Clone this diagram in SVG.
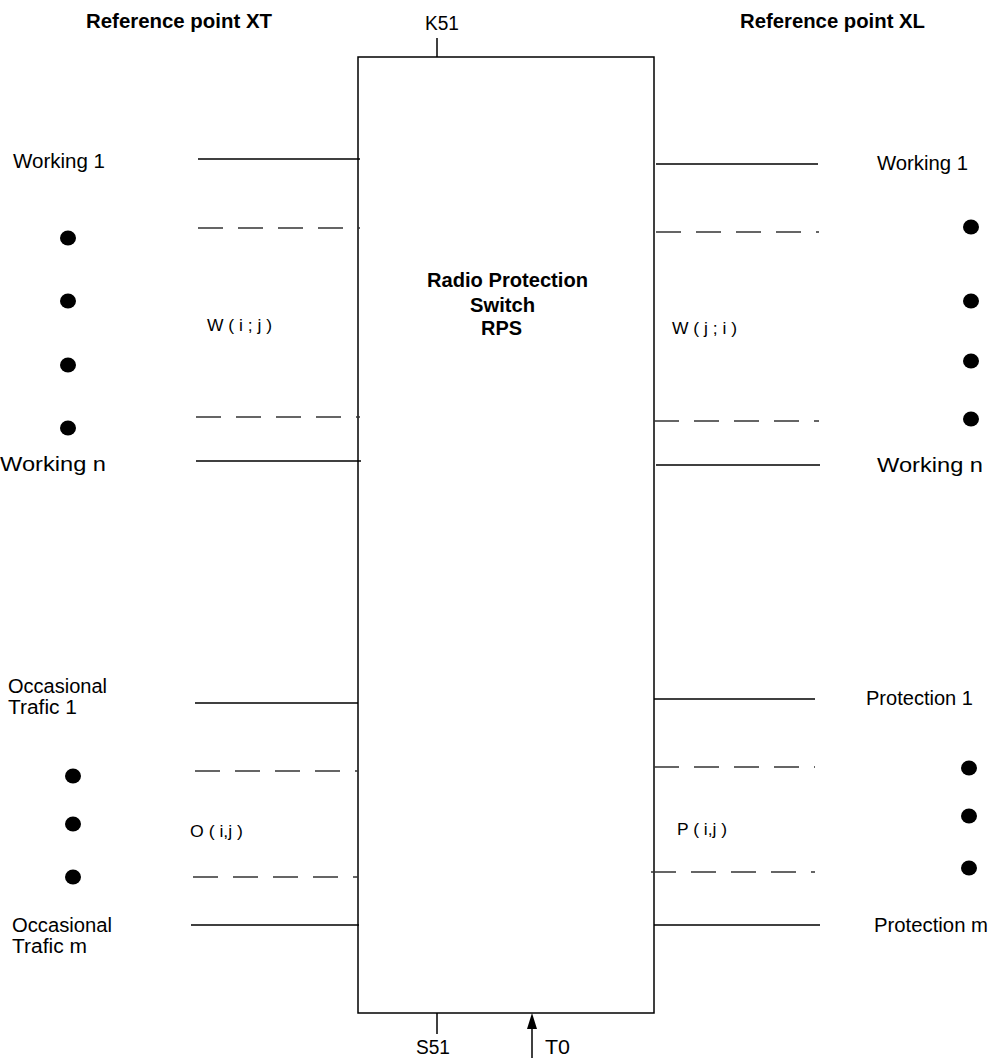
<svg xmlns="http://www.w3.org/2000/svg" width="996" height="1061" viewBox="0 0 996 1061">
<style>
text{font-family:"Liberation Sans",Arial,sans-serif;fill:#000}
.h{font-size:20px;font-weight:bold}
.t{font-size:20px}
.s{font-size:17px}
.ln{stroke:#000;stroke-width:1.5;fill:none}
.da{stroke:#333;stroke-width:1.3;stroke-dasharray:25 15;fill:none}
.dot{fill:#000}
</style>
<rect width="996" height="1061" fill="#fff"/>
<g id="headers">
<text class="h" x="86" y="28" textLength="186" lengthAdjust="spacingAndGlyphs">Reference point XT</text>
<text class="h" x="740" y="28" textLength="185" lengthAdjust="spacingAndGlyphs">Reference point XL</text>
</g>
<g id="rps">
<rect x="358" y="57" width="296" height="956" class="ln" stroke-width="1.6"/>
<text class="h" x="427" y="287" textLength="161" lengthAdjust="spacingAndGlyphs">Radio Protection</text>
<text class="h" x="470" y="312" textLength="65" lengthAdjust="spacingAndGlyphs">Switch</text>
<text class="h" x="481" y="335" textLength="41" lengthAdjust="spacingAndGlyphs">RPS</text>
</g>
<g id="k51"><line x1="437" y1="38" x2="437" y2="57" class="ln"/><text class="t" x="425" y="30" textLength="34" lengthAdjust="spacingAndGlyphs">K51</text></g>
<g id="s51"><line x1="437" y1="1013" x2="437" y2="1034" class="ln"/><text class="t" x="416" y="1054" textLength="34" lengthAdjust="spacingAndGlyphs">S51</text></g>
<g id="t0"><line x1="532" y1="1058" x2="532" y2="1026" class="ln"/><polygon points="532,1013 527,1029 537,1029" fill="#000"/><text class="t" x="545" y="1054" textLength="25" lengthAdjust="spacingAndGlyphs">T0</text></g>
<g id="connectors">
<line x1="198" y1="159" x2="360" y2="159" class="ln"/>
<line x1="198" y1="228" x2="360" y2="228" class="da"/>
<line x1="196" y1="417" x2="360" y2="417" class="da"/>
<line x1="196" y1="461" x2="361" y2="461" class="ln"/>
<line x1="656" y1="164" x2="818" y2="164" class="ln"/>
<line x1="656" y1="232" x2="819" y2="232" class="da"/>
<line x1="654" y1="421" x2="819" y2="421" class="da"/>
<line x1="656" y1="465" x2="820" y2="465" class="ln"/>
<line x1="195" y1="703" x2="358" y2="703" class="ln"/>
<line x1="195" y1="771" x2="358" y2="771" class="da"/>
<line x1="193" y1="877" x2="358" y2="877" class="da"/>
<line x1="191" y1="925" x2="359" y2="925" class="ln"/>
<line x1="654" y1="699" x2="815" y2="699" class="ln"/>
<line x1="654" y1="767" x2="815" y2="767" class="da"/>
<line x1="651" y1="872" x2="815" y2="872" class="da"/>
<line x1="654" y1="925" x2="820" y2="925" class="ln"/>
</g>
<g id="left-working">
<text class="t" x="13" y="168" textLength="92" lengthAdjust="spacingAndGlyphs">Working 1</text>
<text class="t" x="0" y="471" textLength="106" lengthAdjust="spacingAndGlyphs">Working n</text>
<text class="s" x="207" y="331" textLength="65" lengthAdjust="spacingAndGlyphs">W ( i ; j )</text>
<ellipse class="dot" cx="68" cy="238" rx="8" ry="7.5"/>
<ellipse class="dot" cx="68" cy="301" rx="8" ry="7.5"/>
<ellipse class="dot" cx="68" cy="365" rx="8" ry="7.5"/>
<ellipse class="dot" cx="68" cy="428" rx="8" ry="7.5"/>
</g>
<g id="right-working">
<text class="t" x="877" y="170" textLength="91" lengthAdjust="spacingAndGlyphs">Working 1</text>
<text class="t" x="877" y="472" textLength="106" lengthAdjust="spacingAndGlyphs">Working n</text>
<text class="s" x="672" y="334" textLength="65" lengthAdjust="spacingAndGlyphs">W ( j ; i )</text>
<ellipse class="dot" cx="971" cy="227" rx="8" ry="7.5"/>
<ellipse class="dot" cx="971" cy="301" rx="8" ry="7.5"/>
<ellipse class="dot" cx="971" cy="361" rx="8" ry="7.5"/>
<ellipse class="dot" cx="971" cy="419" rx="8" ry="7.5"/>
</g>
<g id="left-occasional">
<text class="t" x="8" y="693" textLength="99" lengthAdjust="spacingAndGlyphs">Occasional</text>
<text class="t" x="8" y="714" textLength="69" lengthAdjust="spacingAndGlyphs">Trafic 1</text>
<text class="t" x="12" y="932" textLength="100" lengthAdjust="spacingAndGlyphs">Occasional</text>
<text class="t" x="12" y="953" textLength="75" lengthAdjust="spacingAndGlyphs">Trafic m</text>
<text class="s" x="190" y="837" textLength="53" lengthAdjust="spacingAndGlyphs">O ( i,j )</text>
<ellipse class="dot" cx="73" cy="776" rx="8" ry="7.5"/>
<ellipse class="dot" cx="73" cy="824" rx="8" ry="7.5"/>
<ellipse class="dot" cx="73" cy="877" rx="8" ry="7.5"/>
</g>
<g id="right-protection">
<text class="t" x="866" y="705" textLength="107" lengthAdjust="spacingAndGlyphs">Protection 1</text>
<text class="t" x="874" y="932" textLength="114" lengthAdjust="spacingAndGlyphs">Protection m</text>
<text class="s" x="677" y="835" textLength="50" lengthAdjust="spacingAndGlyphs">P ( i,j )</text>
<ellipse class="dot" cx="969" cy="768" rx="8" ry="7.5"/>
<ellipse class="dot" cx="969" cy="816" rx="8" ry="7.5"/>
<ellipse class="dot" cx="969" cy="868" rx="8" ry="7.5"/>
</g>
</svg>
